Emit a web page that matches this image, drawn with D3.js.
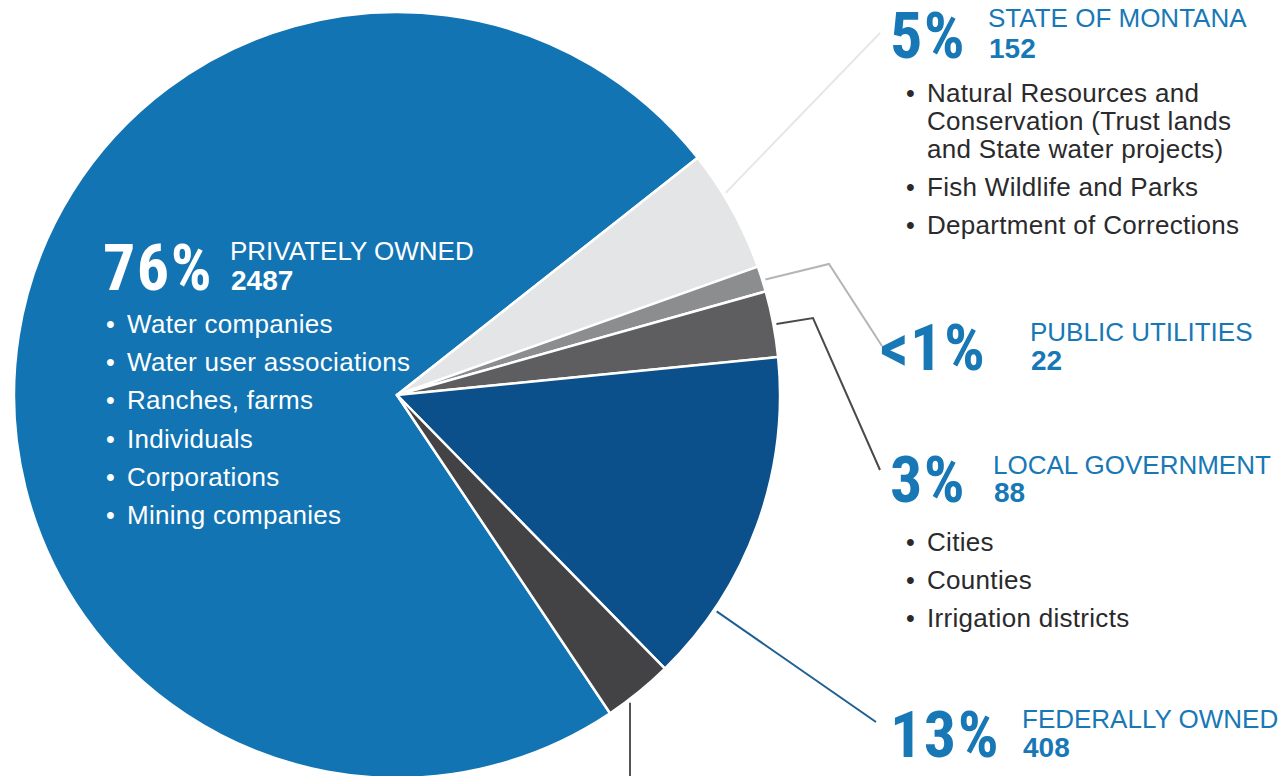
<!DOCTYPE html>
<html>
<head>
<meta charset="utf-8">
<script src="https://cdn.jsdelivr.net/npm/d3@7"></script>
<style>
  html, body { margin: 0; padding: 0; background: #ffffff; }
  svg { display: block; }
  .big { font-family: "Liberation Sans Narrow", "Roboto Condensed", "DejaVu Sans Condensed", sans-serif; font-weight: bold; letter-spacing: 1.5px; }
  .head { font-family: "Liberation Sans", Arial, sans-serif; font-weight: normal; }
  .count { font-family: "Liberation Sans Narrow", "Liberation Sans", sans-serif; font-weight: bold; }
  .body { font-family: "Liberation Sans", Arial, sans-serif; letter-spacing: 0.3px; }
</style>
</head>
<body>
<script>
// ---------- data ----------
const categories = ["Privately owned", "State of Montana", "Public utilities", "Local government", "Federally owned", "Other"];
// slice shares as drawn (percent of the circle)
const sliceShares = [73.75, 5.19, 1.08, 2.78, 14.25, 2.94];
const pctLabels = ["76%", "5%", "<1%", "3%", "13%", ""];
const headLabels = ["PRIVATELY OWNED", "STATE OF MONTANA", "PUBLIC UTILITIES", "LOCAL GOVERNMENT", "FEDERALLY OWNED", ""];
const countLabels = ["2487", "152", "22", "88", "408", ""];
const privateItems = ["Water companies", "Water user associations", "Ranches, farms", "Individuals", "Corporations", "Mining companies"];
const stateItems = [["Natural Resources and", "Conservation (Trust lands", "and State water projects)"], ["Fish Wildlife and Parks"], ["Department of Corrections"]];
const localItems = [["Cities"], ["Counties"], ["Irrigation districts"]];

// ---------- styles / layout ----------
const W = 1286, H = 776;
const cx = 397, cy = 395, R = 383;
const sliceColors = ["#1274b3", "#e4e5e6", "#8c8d8f", "#5e5e60", "#0b4f8b", "#434244"];
const startDeg = 146.2;
const blue = "#1878b6";
const textDark = "#2a2a2c";

const svg = d3.select("body").append("svg").attr("width", W).attr("height", H);
svg.append("rect").attr("width", W).attr("height", H).attr("fill", "#fff");

const rad = d => d * Math.PI / 180;
const pie = d3.pie().sort(null).value(d => d)
  .startAngle(rad(startDeg)).endAngle(rad(startDeg + 360));
const arcs = pie(sliceShares);
const arc = d3.arc().innerRadius(0).outerRadius(R);

const g = svg.append("g").attr("transform", `translate(${cx},${cy})`);
g.selectAll("path.slice").data(arcs).join("path")
  .attr("class", "slice")
  .attr("d", arc)
  .attr("fill", (d, i) => sliceColors[i])
  .attr("stroke", "#fff").attr("stroke-width", 2.5).attr("stroke-linejoin", "round");

// ---------- leader lines ----------
const leaders = [
  {i: 1, ang: 58.4, pts: [[880, 33]], color: "#e6e7e8"},
  {i: 2, ang: 72.6, pts: [[829, 264], [882, 346]], color: "#b4b5b7"},
  {i: 3, ang: 79.4, pts: [[813, 318], [880, 470]], color: "#4a4a4c"},
  {i: 4, ang: 124.1, pts: [[876, 722]], color: "#1d5f91"},
  {i: 5, ang: 142.9, pts: [[630, 776]], color: "#555557"}
];
const rimPt = (ang, r) => [cx + r * Math.sin(rad(ang)), cy - r * Math.cos(rad(ang))];
leaders.forEach(L => {
  let p0 = rimPt(L.ang, R + 3);
  if (L.i === 5) p0 = [L.pts[0][0], p0[1]];
  svg.append("path")
    .attr("d", d3.line()([p0, ...L.pts]))
    .attr("fill", "none").attr("stroke", L.color).attr("stroke-width", 2);
});

// ---------- labels ----------
const labelPos = [
  {i: 0, bx: 103, by: 290, hx: 230, hy: 260, fill: "#fff"},
  {i: 1, bx: 890, by: 58, hx: 988, hy: 27, fill: blue},
  {i: 2, bx: 880, by: 370, hx: 1030, hy: 341, fill: blue},
  {i: 3, bx: 890, by: 502, hx: 993, hy: 474, fill: blue},
  {i: 4, bx: 890, by: 757, hx: 1022, hy: 728, fill: blue}
];
labelPos.forEach(p => {
  svg.append("text").attr("class", "big").attr("x", p.bx).attr("y", p.by)
    .attr("font-size", 64).attr("fill", p.fill).text(pctLabels[p.i]);
  svg.append("text").attr("class", "head").attr("x", p.hx).attr("y", p.hy)
    .attr("font-size", 26).attr("fill", p.fill).text(headLabels[p.i]);
  svg.append("text").attr("class", "count").attr("x", p.hx + 1).attr("y", p.by)
    .attr("font-size", 28).attr("fill", p.fill).text(countLabels[p.i]);
});

function bulletList(items, x, y0, lineH, itemGap, fill) {
  let y = y0;
  items.forEach(lines => {
    svg.append("text").attr("class", "body").attr("x", x).attr("y", y)
      .attr("font-size", 25).attr("fill", fill).text("•");
    lines.forEach((ln, k) => {
      svg.append("text").attr("class", "body").attr("x", x + 21).attr("y", y + k * lineH)
        .attr("font-size", 26).attr("fill", fill).text(ln);
    });
    y += (lines.length - 1) * lineH + itemGap;
  });
}
bulletList(privateItems.map(s => [s]), 106, 333, 28, 38.2, "#fff");
bulletList(stateItems, 906, 102, 28, 38, textDark);
bulletList(localItems, 906, 551, 28, 38, textDark);
</script>
</body>
</html>
